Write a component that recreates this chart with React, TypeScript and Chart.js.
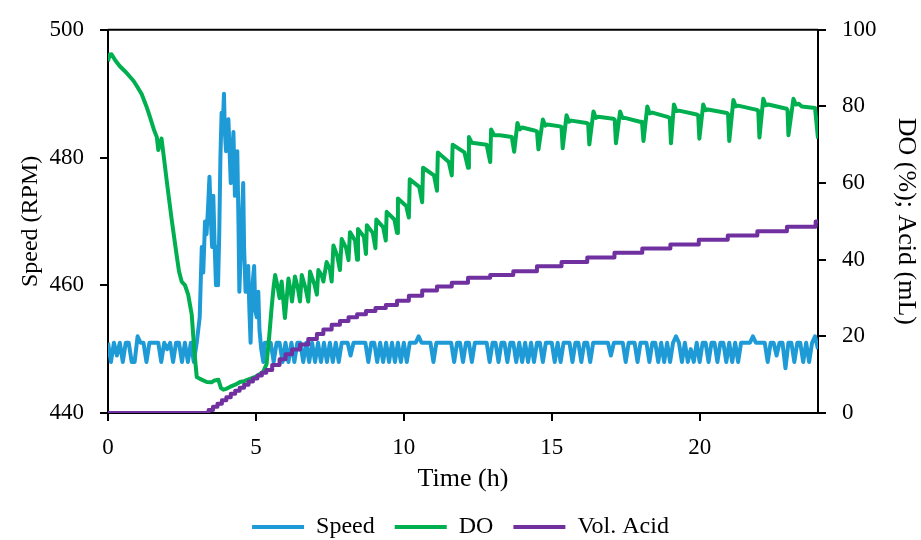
import React, { useEffect, useRef } from 'react';
import { Chart, registerables } from 'chart.js';

Chart.register(...registerables);

const FONT = "'Liberation Serif', 'Times New Roman', serif";

// x-axis ticks (h)
const timeTicks = [0, 5, 10, 15, 20];
const speedTicks = [440, 460, 480, 500];
const rightTicks = [0, 20, 40, 60, 80, 100];

// Speed (RPM) sampled every 0.1 h from 0 to 24 h (3.0–5.4 h replaced by speedBurst)
const speedRPM = [
  451, 448, 451, 449, 451, 448, 451, 451, 448, 448,
  452, 451, 451, 448, 451, 451, 451, 451, 448, 451,
  450, 451, 448, 451, 451, 448, 451, 448, 451, 448,
  451, 451, 451, 451, 451, 451, 451, 451, 451, 451,
  451, 451, 451, 451, 451, 451, 451, 451, 451, 451,
  451, 451, 451, 451, 451, 451, 448, 451, 451, 448,
  451, 448, 451, 448, 451, 451, 448, 451, 448, 451,
  448, 451, 448, 451, 448, 451, 448, 451, 448, 451,
  451, 451, 449, 451, 451, 451, 451, 451, 448, 451,
  451, 448, 451, 448, 451, 448, 451, 448, 451, 448,
  451, 448, 451, 451, 451, 452, 451, 451, 451, 451,
  448, 451, 451, 451, 451, 451, 451, 448, 451, 451,
  448, 451, 451, 448, 451, 451, 451, 451, 451, 448,
  451, 451, 448, 451, 451, 448, 451, 451, 448, 451,
  448, 451, 448, 451, 448, 451, 451, 448, 451, 451,
  451, 448, 451, 448, 451, 451, 451, 448, 451, 451,
  448, 451, 451, 448, 451, 451, 451, 451, 451, 451,
  449, 451, 451, 451, 451, 448, 451, 451, 451, 448,
  451, 451, 451, 448, 451, 451, 448, 451, 448, 451,
  448, 451, 452, 451, 448, 451, 448, 450, 448, 451,
  448, 451, 451, 448, 451, 451, 448, 451, 451, 448,
  451, 448, 451, 448, 451, 451, 451, 451, 452, 451,
  451, 451, 451, 448, 451, 451, 449, 451, 451, 447,
  451, 451, 448, 451, 451, 448, 451, 448, 451, 452,
  450,
];

// Speed excursion between 3 and 5.4 h
const speedBurstTime = [
  3.10, 3.17, 3.22, 3.28, 3.33, 3.38, 3.43, 3.48, 3.52, 3.56, 3.60, 3.65, 3.68, 3.72, 3.76,
  3.80, 3.84, 3.88, 3.92, 3.95, 3.99, 4.03, 4.07, 4.11, 4.15, 4.20, 4.24, 4.29, 4.33, 4.37,
  4.41, 4.44, 4.50, 4.57, 4.60, 4.65, 4.70, 4.74, 4.78, 4.82, 4.86, 4.90, 4.94, 4.98, 5.03,
  5.08, 5.12, 5.18, 5.25, 5.30,
];
const speedBurstRPM = [
  455, 466, 462, 470, 468, 472, 477, 470, 466, 474, 467, 460, 466, 460, 468,
  480, 487, 485, 490, 484, 481, 485, 486, 481, 476, 480, 484, 474, 476, 481,
  470, 459, 467, 476, 466, 459, 461, 463, 456, 451, 458, 461, 463, 456, 455,
  459, 453, 450, 448, 451,
];

// Dissolved oxygen (%)
const doTime = [
  0.00, 0.05, 0.12, 0.25, 0.40, 0.60, 0.86, 1.00, 1.14, 1.30, 1.42, 1.55, 1.65, 1.70, 1.76,
  1.81, 1.90, 1.98, 2.15, 2.32, 2.40, 2.49, 2.60, 2.71, 2.83, 2.92, 3.00, 3.11, 3.34, 3.50,
  3.60, 3.73, 3.82, 3.90, 4.00, 4.12, 4.30, 4.46, 4.60, 4.80, 5.00, 5.14, 5.25, 5.36, 5.45,
  5.53, 5.60, 5.65, 5.72, 5.80, 5.87, 5.98, 6.10, 6.18, 6.22, 6.32, 6.42, 6.49, 6.55, 6.68,
  6.77, 6.83, 6.98, 7.06, 7.11, 7.22, 7.28, 7.39, 7.50, 7.56, 7.62, 7.75, 7.84, 7.90, 8.05,
  8.13, 8.18, 8.35, 8.42, 8.45, 8.65, 8.72, 8.75, 8.95, 9.04, 9.07, 9.30, 9.39, 9.42, 9.68,
  9.77, 9.80, 10.08, 10.17, 10.20, 10.52, 10.62, 10.65, 11.02, 11.12, 11.15, 11.52, 11.62, 11.65, 12.05,
  12.17, 12.20, 12.30, 12.80, 12.92, 12.95, 13.05, 13.25, 13.65, 13.73, 13.84, 13.92, 14.00, 14.38, 14.50,
  14.55, 14.70, 14.78, 14.85, 15.28, 15.33, 15.37, 15.50, 15.58, 15.66, 16.18, 16.23, 16.27, 16.41, 16.49,
  16.57, 17.08, 17.13, 17.17, 17.31, 17.39, 17.47, 17.98, 18.05, 18.10, 18.23, 18.31, 18.40, 18.94, 18.99,
  19.03, 19.13, 19.21, 19.30, 19.90, 19.95, 19.99, 20.12, 20.20, 20.28, 20.92, 20.96, 21.00, 21.14, 21.22,
  21.30, 21.93, 21.98, 22.02, 22.15, 22.23, 22.32, 22.94, 22.97, 23.00, 23.17, 23.25, 23.35, 23.45, 23.90,
  23.93, 24.00,
];
const doPercent = [
  91.8, 93.5, 93.6, 92.0, 90.5, 89.0, 86.7, 85.0, 83.2, 80.0, 77.2, 74.0, 72.0, 68.6, 70.5,
  71.6, 66.0, 60.9, 50.6, 41.2, 37.0, 34.3, 33.4, 30.9, 25.7, 16.0, 9.4, 8.9, 8.1, 8.0,
  8.5, 8.7, 6.5, 6.1, 6.3, 6.8, 7.4, 8.1, 8.3, 8.9, 9.5, 10.2, 10.8, 12.8, 20.0,
  27.4, 33.0, 36.0, 33.5, 30.0, 34.3, 24.8, 35.1, 31.5, 29.1, 35.6, 32.5, 29.1, 36.0, 32.5,
  29.1, 36.9, 33.5, 30.9, 37.3, 36.0, 34.3, 39.4, 37.5, 34.3, 43.7, 41.0, 37.3, 45.4, 43.0,
  39.9, 47.2, 45.0, 40.0, 48.0, 46.0, 41.5, 49.0, 47.0, 43.0, 50.5, 48.5, 45.0, 52.5, 50.5,
  47.0, 56.0, 54.0, 51.0, 61.0, 59.0, 55.0, 64.0, 62.0, 58.0, 68.0, 65.5, 62.0, 70.0, 68.0,
  64.0, 72.0, 70.5, 70.0, 65.5, 74.0, 72.5, 72.5, 72.0, 68.2, 75.7, 74.0, 74.5, 73.8, 73.5,
  68.8, 76.6, 75.0, 75.3, 74.8, 74.6, 69.1, 77.7, 76.0, 76.3, 75.7, 75.5, 70.1, 78.7, 77.0,
  77.3, 76.8, 76.5, 70.4, 78.7, 77.0, 77.0, 76.0, 76.0, 71.0, 80.0, 78.2, 78.4, 77.2, 77.0,
  70.4, 80.5, 78.8, 78.9, 77.9, 77.7, 71.6, 80.5, 79.0, 79.2, 78.3, 78.0, 71.0, 81.7, 80.0,
  80.2, 79.1, 78.9, 71.9, 82.0, 80.3, 80.5, 79.4, 79.0, 72.5, 82.0, 80.5, 80.7, 80.0, 79.6,
  79.6, 71.6,
];

// Cumulative volume of acid (mL), value changes at each time
const acidTime = [
  0, 3.40, 3.55, 3.70, 3.85, 4.00, 4.15, 4.30, 4.45, 4.60, 4.75, 4.90, 5.05, 5.20, 5.35,
  5.55, 5.80, 6.00, 6.22, 6.49, 6.77, 7.06, 7.28, 7.56, 7.84, 8.13, 8.42, 8.72, 9.04, 9.39,
  9.77, 10.17, 10.62, 11.12, 11.62, 12.17, 12.92, 13.70, 14.50, 15.33, 16.20, 17.12, 18.06, 19.01, 19.97,
  20.95, 21.95, 22.95, 23.92, 24.00,
];
const acidML = [
  0, 0.8, 1.6, 2.4, 3.3, 4.1, 5.0, 5.8, 6.6, 7.4, 8.2, 9.0, 9.8, 10.5, 11.2,
  12.5, 14.0, 15.3, 16.6, 17.9, 19.3, 20.6, 21.8, 23.0, 24.0, 25.0, 25.8, 26.6, 27.4, 28.2,
  29.3, 30.6, 32.0, 33.0, 34.0, 35.3, 36.0, 37.0, 38.3, 39.4, 40.6, 41.8, 42.9, 44.0, 45.2,
  46.3, 47.4, 48.6, 50.0, 50.0,
];

const seriesNames = ['Speed', 'DO', 'Vol. Acid'];
const seriesColors = ['#1E9BD7', '#00B050', '#7030A0'];

function buildSpeed() {
  const pts: { x: number; y: number }[] = [];
  speedRPM.forEach((v, i) => {
    const t = i / 10;
    if (t <= 3.0 + 1e-9) pts.push({ x: t, y: v });
  });
  speedBurstTime.forEach((t, i) => pts.push({ x: t, y: speedBurstRPM[i] }));
  speedRPM.forEach((v, i) => {
    const t = i / 10;
    if (t >= 5.4 - 1e-9) pts.push({ x: t, y: v });
  });
  return pts;
}

const frame = {
  id: 'frame',
  afterDraw(chart: any) {
    const { ctx, chartArea } = chart;
    ctx.save();
    ctx.strokeStyle = '#000';
    ctx.lineWidth = 2;
    ctx.beginPath();
    ctx.moveTo(chartArea.left, chartArea.top);
    ctx.lineTo(chartArea.right, chartArea.top);
    ctx.stroke();
    ctx.restore();
  },
};

export default function App() {
  const ref = useRef<HTMLCanvasElement | null>(null);
  useEffect(() => {
    if (!ref.current) return;
    const tickFont = { family: FONT, size: 23 };
    const axisGrid = { drawOnChartArea: false, drawTicks: true, tickLength: 8, color: '#000', lineWidth: 2 };
    const axisBorder = { display: true, color: '#000', width: 2 };
    const chart = new Chart(ref.current, {
      type: 'line',
      data: {
        datasets: [
          {
            label: seriesNames[0],
            data: buildSpeed(),
            borderColor: seriesColors[0],
            backgroundColor: seriesColors[0],
            borderWidth: 4,
            borderJoinStyle: 'round',
            pointRadius: 0,
            tension: 0,
            yAxisID: 'y',
            order: 3,
          },
          {
            label: seriesNames[1],
            data: doTime.map((t, i) => ({ x: t, y: doPercent[i] })),
            borderColor: seriesColors[1],
            backgroundColor: seriesColors[1],
            borderWidth: 4,
            borderJoinStyle: 'round',
            pointRadius: 0,
            tension: 0,
            yAxisID: 'y1',
            order: 2,
          },
          {
            label: seriesNames[2],
            data: acidTime.map((t, i) => ({ x: t, y: acidML[i] })),
            borderColor: seriesColors[2],
            backgroundColor: seriesColors[2],
            borderWidth: 4,
            borderJoinStyle: 'round',
            pointRadius: 0,
            stepped: true,
            yAxisID: 'y1',
            order: 1,
          },
        ],
      },
      options: {
        animation: false,
        responsive: true,
        maintainAspectRatio: false,
        devicePixelRatio: 1,
        layout: { padding: { top: 25, left: 0, right: 0, bottom: 0 } },
        plugins: {
          tooltip: { enabled: false },
          legend: {
            position: 'bottom',
            labels: {
              usePointStyle: true,
              pointStyle: 'line',
              pointStyleWidth: 52,
              color: '#000',
              padding: 20,
              font: { family: FONT, size: 24 },
              sort: (a: any, b: any) => a.datasetIndex - b.datasetIndex,
            },
          },
        },
        scales: {
          x: {
            type: 'linear',
            min: 0,
            max: 24,
            afterBuildTicks: (s: any) => {
              s.ticks = timeTicks.map((v) => ({ value: v }));
            },
            afterFit: (s: any) => {
              s.height = 82;
            },
            ticks: { color: '#000', font: tickFont, padding: 13, maxRotation: 0 },
            grid: axisGrid,
            border: axisBorder,
            title: {
              display: true,
              text: 'Time (h)',
              color: '#000',
              font: { family: FONT, size: 26 },
              padding: { top: 0, bottom: 0 },
            },
          },
          y: {
            type: 'linear',
            position: 'left',
            min: 440,
            max: 500,
            afterBuildTicks: (s: any) => {
              s.ticks = speedTicks.map((v) => ({ value: v }));
            },
            afterFit: (s: any) => {
              s.width = 108;
            },
            ticks: { color: '#000', font: tickFont, padding: 16 },
            grid: axisGrid,
            border: axisBorder,
            title: {
              display: true,
              text: 'Speed (RPM)',
              color: '#000',
              font: { family: FONT, size: 24 },
              padding: { top: 16, bottom: 0 },
            },
          },
          y1: {
            type: 'linear',
            position: 'right',
            min: 0,
            max: 100,
            afterBuildTicks: (s: any) => {
              s.ticks = rightTicks.map((v) => ({ value: v }));
            },
            afterFit: (s: any) => {
              s.width = 103;
            },
            ticks: { color: '#000', font: tickFont, padding: 16 },
            grid: axisGrid,
            border: axisBorder,
            title: {
              display: true,
              text: 'DO (%); Acid (mL)',
              color: '#000',
              font: { family: FONT, size: 26 },
              padding: { top: 0, bottom: 0 },
            },
          },
        },
      },
      plugins: [frame],
    } as any);
    return () => chart.destroy();
  }, []);

  return (
    <div style={{ position: 'fixed', left: 0, top: 0, width: 921, height: 540, overflow: 'hidden', background: '#fff' }}>
      <div style={{ position: 'relative', width: 921, height: 549 }}>
        <canvas ref={ref} />
      </div>
    </div>
  );
}
